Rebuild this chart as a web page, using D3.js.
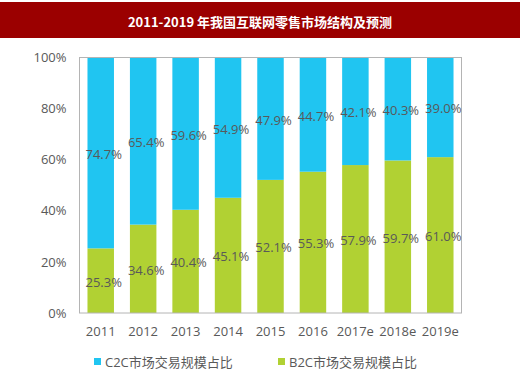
<!DOCTYPE html>
<html>
<head>
<meta charset="utf-8">
<script src="https://cdn.jsdelivr.net/npm/d3@7"></script>
<style>
  html, body { margin: 0; padding: 0; background: #fff; }
  svg { display: block; }
</style>
</head>
<body>
<svg id="chart" width="520" height="373"></svg>
<script>
const titleText = "2011-2019 年我国互联网零售市场结构及预测";
const years = ["2011", "2012", "2013", "2014", "2015", "2016", "2017e", "2018e", "2019e"];
const b2cShare = [25.3, 34.6, 40.4, 45.1, 52.1, 55.3, 57.9, 59.7, 61.0];
const c2cShare = [74.7, 65.4, 59.6, 54.9, 47.9, 44.7, 42.1, 40.3, 39.0];
const seriesNames = ["C2C市场交易规模占比", "B2C市场交易规模占比"];
const yTicks = [0, 20, 40, 60, 80, 100];

const colors = { c2c: "#20c5f1", b2c: "#b1d133" };
const font = "'Open Sans', 'Noto Sans CJK SC', sans-serif";
const textColor = "#595959";

const svg = d3.select("#chart");

// Title bar
svg.append("rect").attr("x", 0).attr("y", 2).attr("width", 520).attr("height", 36).attr("fill", "#9b0000");
svg.append("text").attr("x", 260).attr("y", 21).attr("text-anchor", "middle").attr("dominant-baseline", "central")
  .attr("fill", "#fff").attr("font-family", "'Noto Sans CJK SC', sans-serif").attr("font-weight", "bold")
  .attr("font-size", 13).text(titleText);

const plot = { left: 79.5, right: 461.5, top: 57.5, bottom: 313 };

const x = d3.scaleBand().domain(years).range([plot.left, plot.right]).paddingInner(0.376).paddingOuter(0.188);
const y = d3.scaleLinear().domain([0, 100]).range([plot.bottom, plot.top]);

const data = years.map((yr, i) => ({ year: yr, b2c: b2cShare[i], c2c: c2cShare[i] }));
const stack = d3.stack().keys(["b2c", "c2c"]);
const stacked = stack(data);

const g = svg.append("g");
g.selectAll("g.series").data(stacked).join("g")
  .attr("class", "series")
  .attr("fill", d => colors[d.key])
  .selectAll("rect").data(d => d).join("rect")
  .attr("x", d => x(d.data.year))
  .attr("width", x.bandwidth())
  .attr("y", d => y(Math.min(100, d[1])))
  .attr("height", d => y(d[0]) - y(Math.min(100, d[1])));

// Frame
svg.append("rect").attr("x", plot.left).attr("y", plot.top)
  .attr("width", plot.right - plot.left).attr("height", plot.bottom - plot.top)
  .attr("fill", "none").attr("stroke", "#b4b4b4").attr("stroke-width", 1);

// Y axis
const yAxis = d3.axisLeft(y).tickValues(yTicks).tickFormat(d => d + "%").tickSize(0).tickPadding(13);
const ya = svg.append("g").attr("transform", `translate(${plot.left},0)`).call(yAxis);
ya.select(".domain").remove();
ya.selectAll("text").attr("font-family", font).attr("font-size", 13).attr("fill", textColor);

// X axis
const xAxis = d3.axisBottom(x).tickSize(0).tickPadding(14);
const xa = svg.append("g").attr("transform", `translate(0,${plot.bottom})`).call(xAxis);
xa.select(".domain").remove();
xa.selectAll("text").attr("font-family", font).attr("font-size", 13).attr("fill", textColor);

// Data labels
stacked.forEach(s => {
  svg.append("g").selectAll("text").data(s).join("text")
    .attr("x", d => x(d.data.year) + x.bandwidth() / 2 + 3)
    .attr("y", d => y((d[0] + Math.min(100, d[1])) / 2) + 1)
    .attr("text-anchor", "middle").attr("dominant-baseline", "central")
    .attr("font-family", font).attr("font-size", 13).attr("fill", textColor)
    .text(d => d.data[s.key].toFixed(1) + "%");
});

// Legend
const legendItems = [
  { name: seriesNames[0], color: colors.c2c, x: 94 },
  { name: seriesNames[1], color: colors.b2c, x: 278 }
];
const lg = svg.append("g").selectAll("g").data(legendItems).join("g")
  .attr("transform", d => `translate(${d.x},362)`);
lg.append("rect").attr("x", 0).attr("y", -4).attr("width", 7).attr("height", 7).attr("fill", d => d.color);
lg.append("text").attr("x", 11).attr("y", 0).attr("dominant-baseline", "central")
  .attr("font-family", font).attr("font-size", 13).attr("fill", textColor).text(d => d.name);
</script>
</body>
</html>
